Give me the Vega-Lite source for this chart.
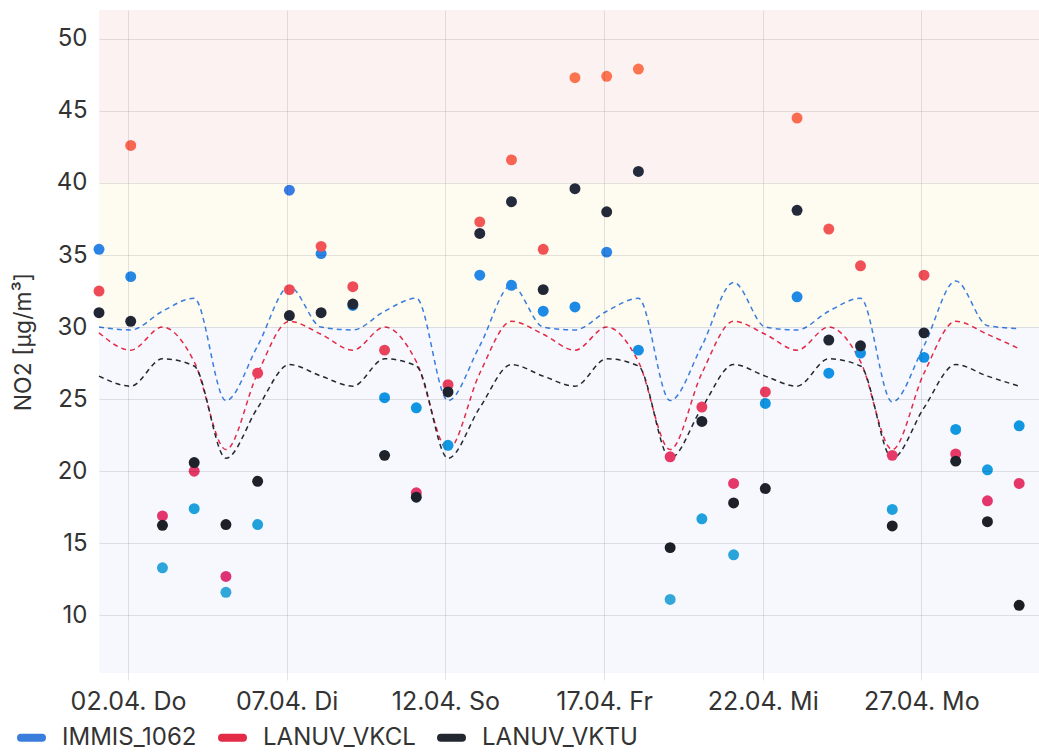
{
  "$schema": "https://vega.github.io/schema/vega-lite/v6.json",
  "width": 940,
  "height": 663,
  "autosize": {"type": "none"},
  "padding": {"left": 99, "top": 10, "right": 0, "bottom": 80},
  "background": "white",
  "config": {
    "font": "Inter",
    "view": {"stroke": null},
    "axis": {"labelFont": "Inter", "titleFont": "Inter"},
    "legend": {"labelFont": "Inter"}
  },
  "datasets": {
    "bands": [
      {"band": "low", "lo": 6, "hi": 30},
      {"band": "mid", "lo": 30, "hi": 40},
      {"band": "high", "lo": 40, "hi": 52}
    ],
    "obs": [
      {"d": "2020-04-01T02:00:00Z", "s": "IMMIS_1062", "v": 35.4, "e": 30.0},
      {"d": "2020-04-02T02:00:00Z", "s": "IMMIS_1062", "v": 33.5, "e": 29.8},
      {"d": "2020-04-03T02:00:00Z", "s": "IMMIS_1062", "v": 13.3, "e": 31.1},
      {"d": "2020-04-04T02:00:00Z", "s": "IMMIS_1062", "v": 17.4, "e": 32.0},
      {"d": "2020-04-05T02:00:00Z", "s": "IMMIS_1062", "v": 11.6, "e": 24.9},
      {"d": "2020-04-06T02:00:00Z", "s": "IMMIS_1062", "v": 16.3, "e": 28.7},
      {"d": "2020-04-07T02:00:00Z", "s": "IMMIS_1062", "v": 39.5, "e": 32.8},
      {"d": "2020-04-08T02:00:00Z", "s": "IMMIS_1062", "v": 35.1, "e": 30.0},
      {"d": "2020-04-09T02:00:00Z", "s": "IMMIS_1062", "v": 31.5, "e": 29.8},
      {"d": "2020-04-10T02:00:00Z", "s": "IMMIS_1062", "v": 25.1, "e": 31.1},
      {"d": "2020-04-11T02:00:00Z", "s": "IMMIS_1062", "v": 24.4, "e": 32.0},
      {"d": "2020-04-12T02:00:00Z", "s": "IMMIS_1062", "v": 21.8, "e": 24.9},
      {"d": "2020-04-13T02:00:00Z", "s": "IMMIS_1062", "v": 33.6, "e": 28.7},
      {"d": "2020-04-14T02:00:00Z", "s": "IMMIS_1062", "v": 32.9, "e": 32.9},
      {"d": "2020-04-15T02:00:00Z", "s": "IMMIS_1062", "v": 31.1, "e": 30.0},
      {"d": "2020-04-16T02:00:00Z", "s": "IMMIS_1062", "v": 31.4, "e": 29.8},
      {"d": "2020-04-17T02:00:00Z", "s": "IMMIS_1062", "v": 35.2, "e": 31.1},
      {"d": "2020-04-18T02:00:00Z", "s": "IMMIS_1062", "v": 28.4, "e": 32.0},
      {"d": "2020-04-19T02:00:00Z", "s": "IMMIS_1062", "v": 11.1, "e": 24.9},
      {"d": "2020-04-20T02:00:00Z", "s": "IMMIS_1062", "v": 16.7, "e": 28.7},
      {"d": "2020-04-21T02:00:00Z", "s": "IMMIS_1062", "v": 14.2, "e": 33.1},
      {"d": "2020-04-22T02:00:00Z", "s": "IMMIS_1062", "v": 24.7, "e": 30.0},
      {"d": "2020-04-23T02:00:00Z", "s": "IMMIS_1062", "v": 32.1, "e": 29.8},
      {"d": "2020-04-24T02:00:00Z", "s": "IMMIS_1062", "v": 26.8, "e": 31.1},
      {"d": "2020-04-25T02:00:00Z", "s": "IMMIS_1062", "v": 28.2, "e": 32.0},
      {"d": "2020-04-26T02:00:00Z", "s": "IMMIS_1062", "v": 17.35, "e": 24.8},
      {"d": "2020-04-27T02:00:00Z", "s": "IMMIS_1062", "v": 27.9, "e": 28.7},
      {"d": "2020-04-28T02:00:00Z", "s": "IMMIS_1062", "v": 22.9, "e": 33.2},
      {"d": "2020-04-29T02:00:00Z", "s": "IMMIS_1062", "v": 20.1, "e": 30.1},
      {"d": "2020-04-30T02:00:00Z", "s": "IMMIS_1062", "v": 23.15, "e": 29.9},

      {"d": "2020-04-01T02:00:00Z", "s": "LANUV_VKCL", "v": 32.5, "e": 29.6},
      {"d": "2020-04-02T02:00:00Z", "s": "LANUV_VKCL", "v": 42.6, "e": 28.4},
      {"d": "2020-04-03T02:00:00Z", "s": "LANUV_VKCL", "v": 16.9, "e": 30.0},
      {"d": "2020-04-04T02:00:00Z", "s": "LANUV_VKCL", "v": 20.0, "e": 27.6},
      {"d": "2020-04-05T02:00:00Z", "s": "LANUV_VKCL", "v": 12.7, "e": 21.5},
      {"d": "2020-04-06T02:00:00Z", "s": "LANUV_VKCL", "v": 26.8, "e": 26.8},
      {"d": "2020-04-07T02:00:00Z", "s": "LANUV_VKCL", "v": 32.6, "e": 30.4},
      {"d": "2020-04-08T02:00:00Z", "s": "LANUV_VKCL", "v": 35.6, "e": 29.5},
      {"d": "2020-04-09T02:00:00Z", "s": "LANUV_VKCL", "v": 32.8, "e": 28.4},
      {"d": "2020-04-10T02:00:00Z", "s": "LANUV_VKCL", "v": 28.4, "e": 30.0},
      {"d": "2020-04-11T02:00:00Z", "s": "LANUV_VKCL", "v": 18.5, "e": 27.6},
      {"d": "2020-04-12T02:00:00Z", "s": "LANUV_VKCL", "v": 26.0, "e": 21.5},
      {"d": "2020-04-13T02:00:00Z", "s": "LANUV_VKCL", "v": 37.3, "e": 26.8},
      {"d": "2020-04-14T02:00:00Z", "s": "LANUV_VKCL", "v": 41.6, "e": 30.4},
      {"d": "2020-04-15T02:00:00Z", "s": "LANUV_VKCL", "v": 35.4, "e": 29.5},
      {"d": "2020-04-16T02:00:00Z", "s": "LANUV_VKCL", "v": 47.3, "e": 28.4},
      {"d": "2020-04-17T02:00:00Z", "s": "LANUV_VKCL", "v": 47.4, "e": 30.0},
      {"d": "2020-04-18T02:00:00Z", "s": "LANUV_VKCL", "v": 47.9, "e": 27.6},
      {"d": "2020-04-19T02:00:00Z", "s": "LANUV_VKCL", "v": 21.0, "e": 21.5},
      {"d": "2020-04-20T02:00:00Z", "s": "LANUV_VKCL", "v": 24.45, "e": 26.8},
      {"d": "2020-04-21T02:00:00Z", "s": "LANUV_VKCL", "v": 19.15, "e": 30.4},
      {"d": "2020-04-22T02:00:00Z", "s": "LANUV_VKCL", "v": 25.5, "e": 29.5},
      {"d": "2020-04-23T02:00:00Z", "s": "LANUV_VKCL", "v": 44.5, "e": 28.4},
      {"d": "2020-04-24T02:00:00Z", "s": "LANUV_VKCL", "v": 36.8, "e": 30.0},
      {"d": "2020-04-25T02:00:00Z", "s": "LANUV_VKCL", "v": 34.25, "e": 27.6},
      {"d": "2020-04-26T02:00:00Z", "s": "LANUV_VKCL", "v": 21.1, "e": 21.5},
      {"d": "2020-04-27T02:00:00Z", "s": "LANUV_VKCL", "v": 33.6, "e": 26.8},
      {"d": "2020-04-28T02:00:00Z", "s": "LANUV_VKCL", "v": 21.2, "e": 30.4},
      {"d": "2020-04-29T02:00:00Z", "s": "LANUV_VKCL", "v": 17.95, "e": 29.5},
      {"d": "2020-04-30T02:00:00Z", "s": "LANUV_VKCL", "v": 19.15, "e": 28.5},

      {"d": "2020-04-01T02:00:00Z", "s": "LANUV_VKTU", "v": 31.0, "e": 26.6},
      {"d": "2020-04-02T02:00:00Z", "s": "LANUV_VKTU", "v": 30.4, "e": 25.9},
      {"d": "2020-04-03T02:00:00Z", "s": "LANUV_VKTU", "v": 16.25, "e": 27.8},
      {"d": "2020-04-04T02:00:00Z", "s": "LANUV_VKTU", "v": 20.6, "e": 27.3},
      {"d": "2020-04-05T02:00:00Z", "s": "LANUV_VKTU", "v": 16.3, "e": 20.9},
      {"d": "2020-04-06T02:00:00Z", "s": "LANUV_VKTU", "v": 19.3, "e": 24.4},
      {"d": "2020-04-07T02:00:00Z", "s": "LANUV_VKTU", "v": 30.8, "e": 27.4},
      {"d": "2020-04-08T02:00:00Z", "s": "LANUV_VKTU", "v": 31.0, "e": 26.6},
      {"d": "2020-04-09T02:00:00Z", "s": "LANUV_VKTU", "v": 31.6, "e": 25.9},
      {"d": "2020-04-10T02:00:00Z", "s": "LANUV_VKTU", "v": 21.1, "e": 27.8},
      {"d": "2020-04-11T02:00:00Z", "s": "LANUV_VKTU", "v": 18.2, "e": 27.3},
      {"d": "2020-04-12T02:00:00Z", "s": "LANUV_VKTU", "v": 25.5, "e": 20.9},
      {"d": "2020-04-13T02:00:00Z", "s": "LANUV_VKTU", "v": 36.5, "e": 24.4},
      {"d": "2020-04-14T02:00:00Z", "s": "LANUV_VKTU", "v": 38.7, "e": 27.4},
      {"d": "2020-04-15T02:00:00Z", "s": "LANUV_VKTU", "v": 32.6, "e": 26.6},
      {"d": "2020-04-16T02:00:00Z", "s": "LANUV_VKTU", "v": 39.6, "e": 25.9},
      {"d": "2020-04-17T02:00:00Z", "s": "LANUV_VKTU", "v": 38.0, "e": 27.8},
      {"d": "2020-04-18T02:00:00Z", "s": "LANUV_VKTU", "v": 40.8, "e": 27.3},
      {"d": "2020-04-19T02:00:00Z", "s": "LANUV_VKTU", "v": 14.7, "e": 20.9},
      {"d": "2020-04-20T02:00:00Z", "s": "LANUV_VKTU", "v": 23.45, "e": 24.4},
      {"d": "2020-04-21T02:00:00Z", "s": "LANUV_VKTU", "v": 17.8, "e": 27.4},
      {"d": "2020-04-22T02:00:00Z", "s": "LANUV_VKTU", "v": 18.8, "e": 26.6},
      {"d": "2020-04-23T02:00:00Z", "s": "LANUV_VKTU", "v": 38.1, "e": 25.9},
      {"d": "2020-04-24T02:00:00Z", "s": "LANUV_VKTU", "v": 29.1, "e": 27.8},
      {"d": "2020-04-25T02:00:00Z", "s": "LANUV_VKTU", "v": 28.7, "e": 27.3},
      {"d": "2020-04-26T02:00:00Z", "s": "LANUV_VKTU", "v": 16.2, "e": 20.9},
      {"d": "2020-04-27T02:00:00Z", "s": "LANUV_VKTU", "v": 29.6, "e": 24.4},
      {"d": "2020-04-28T02:00:00Z", "s": "LANUV_VKTU", "v": 20.7, "e": 27.4},
      {"d": "2020-04-29T02:00:00Z", "s": "LANUV_VKTU", "v": 16.5, "e": 26.6},
      {"d": "2020-04-30T02:00:00Z", "s": "LANUV_VKTU", "v": 10.7, "e": 25.9}
    ]
  },
  "layer": [
    {
      "data": {"name": "bands"},
      "mark": {"type": "rect"},
      "encoding": {
        "y": {
          "field": "lo", "type": "quantitative", "title": "NO2 [µg/m³]",
          "scale": {"domain": [6, 52], "nice": false, "zero": false},
          "axis": {
            "values": [10, 15, 20, 25, 30, 35, 40, 45, 50],
            "domain": false, "ticks": false, "zindex": 1,
            "gridColor": "#000", "gridOpacity": 0.1,
            "labelFontSize": 24, "labelColor": "#333", "labelPadding": 12,
            "titleFontSize": 23, "titleFontWeight": "normal", "titleColor": "#333", "titlePadding": 21
          }
        },
        "y2": {"field": "hi"},
        "color": {
          "field": "band", "type": "nominal", "legend": null,
          "scale": {"domain": ["low", "mid", "high"], "range": ["#f6f8fd", "#fefbf1", "#fdf2f2"]}
        }
      }
    },
    {
      "data": {"name": "obs"},
      "mark": {"type": "line", "interpolate": "monotone", "strokeDash": [5, 4], "strokeWidth": 1.5},
      "encoding": {
        "x": {
          "field": "d", "type": "temporal", "title": null,
          "scale": {"type": "utc", "domain": [
            {"year": 2020, "month": 4, "date": 1, "hours": 2, "utc": true},
            {"year": 2020, "month": 4, "date": 30, "hours": 17, "utc": true}
          ]},
          "axis": {
            "values": [
              {"year": 2020, "month": 4, "date": 2, "utc": true},
              {"year": 2020, "month": 4, "date": 7, "utc": true},
              {"year": 2020, "month": 4, "date": 12, "utc": true},
              {"year": 2020, "month": 4, "date": 17, "utc": true},
              {"year": 2020, "month": 4, "date": 22, "utc": true},
              {"year": 2020, "month": 4, "date": 27, "utc": true}
            ],
            "labelExpr": "utcFormat(datum.value, '%d.%m.') + ' ' + ['So','Mo','Di','Mi','Do','Fr','Sa'][utcday(datum.value)]",
            "domain": false, "zindex": 1,
            "gridColor": "#000", "gridOpacity": 0.1,
            "tickColor": "#000", "tickOpacity": 0.1, "tickSize": 7,
            "labelFontSize": 25, "labelColor": "#333", "labelPadding": 9
          }
        },
        "y": {"field": "e", "type": "quantitative", "title": "NO2 [µg/m³]"},
        "color": {
          "field": "s", "type": "nominal",
          "scale": {"domain": ["IMMIS_1062", "LANUV_VKCL", "LANUV_VKTU"], "range": ["#3b7ddd", "#e32b47", "#232830"]},
          "legend": {
            "orient": "none", "legendX": -82, "legendY": 713, "direction": "horizontal",
            "title": null, "symbolType": "stroke", "symbolStrokeWidth": 8, "symbolSize": 440,
            "labelFontSize": 24, "labelColor": "#333", "columnPadding": 9, "labelOffset": 16,
            "encode": {"symbols": {"update": {"strokeDash": {"value": []}, "strokeCap": {"value": "round"}}}}
          }
        }
      }
    },
    {
      "data": {"name": "obs"},
      "transform": [{"filter": "datum.s === 'IMMIS_1062'"}],
      "mark": {"type": "circle", "size": 120, "opacity": 1},
      "encoding": {
        "x": {"field": "d", "type": "temporal"},
        "y": {"field": "v", "type": "quantitative", "title": "NO2 [µg/m³]"},
        "color": {"field": "v", "type": "quantitative", "legend": null,
          "scale": {"domain": [11, 40], "range": ["#33a8d8", "#3b7be6"]}}
      }
    },
    {
      "data": {"name": "obs"},
      "transform": [{"filter": "datum.s === 'LANUV_VKCL'"}],
      "mark": {"type": "circle", "size": 120, "opacity": 1},
      "encoding": {
        "x": {"field": "d", "type": "temporal"},
        "y": {"field": "v", "type": "quantitative", "title": "NO2 [µg/m³]"},
        "color": {"field": "v", "type": "quantitative", "legend": null,
          "scale": {"domain": [12, 30, 48], "range": ["#de3176", "#eb4458", "#fd7550"]}}
      }
    },
    {
      "data": {"name": "obs"},
      "transform": [{"filter": "datum.s === 'LANUV_VKTU'"}],
      "mark": {"type": "circle", "size": 120, "opacity": 1},
      "encoding": {
        "x": {"field": "d", "type": "temporal"},
        "y": {"field": "v", "type": "quantitative", "title": "NO2 [µg/m³]"},
        "color": {"field": "v", "type": "quantitative", "legend": null,
          "scale": {"domain": [10, 41], "range": ["#1b1d22", "#242b3d"]}}
      }
    }
  ],
  "resolve": {"scale": {"color": "independent"}}
}
